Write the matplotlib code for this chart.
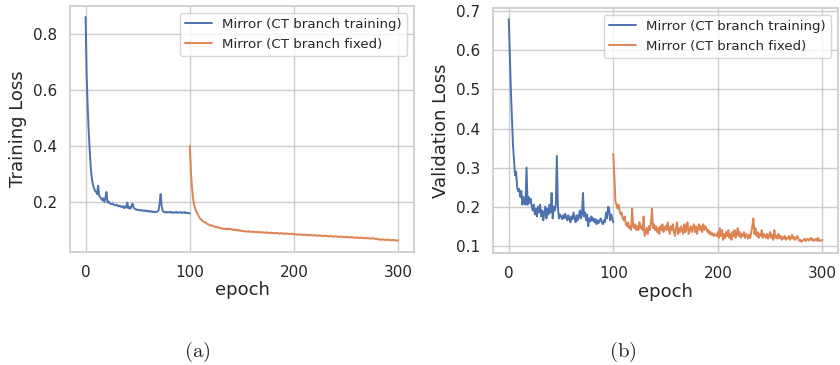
import numpy as np
import matplotlib
matplotlib.use("Agg")
import matplotlib.pyplot as plt
import seaborn as sns

# ---- data (one value per epoch) ----
train_ct_training = [
    0.860, 0.650, 0.540, 0.450, 0.380, 0.320, 0.285, 0.262, 0.250, 0.240,
    0.236, 0.228, 0.258, 0.222, 0.218, 0.212, 0.206, 0.213, 0.200, 0.214,
    0.236, 0.198, 0.202, 0.196, 0.194, 0.192, 0.195, 0.190, 0.189, 0.188,
    0.190, 0.186, 0.185, 0.187, 0.183, 0.182, 0.185, 0.178, 0.184, 0.180,
    0.198, 0.178, 0.182, 0.176, 0.185, 0.194, 0.181, 0.176, 0.174, 0.172,
    0.173, 0.171, 0.170, 0.172, 0.169, 0.170, 0.168, 0.170, 0.167, 0.169,
    0.166, 0.168, 0.165, 0.167, 0.164, 0.166, 0.163, 0.165, 0.164, 0.166,
    0.170, 0.195, 0.228, 0.185, 0.168, 0.164, 0.163, 0.165, 0.162, 0.164,
    0.163, 0.165, 0.162, 0.164, 0.161, 0.163, 0.162, 0.165, 0.161, 0.163,
    0.162, 0.164, 0.161, 0.163, 0.162, 0.164, 0.160, 0.162, 0.161, 0.160,
    0.159]

train_ct_fixed = [
    0.400, 0.310, 0.255, 0.215, 0.192, 0.178, 0.168, 0.160, 0.153, 0.146,
    0.140, 0.137, 0.133, 0.130, 0.127, 0.128, 0.124, 0.121, 0.120, 0.117,
    0.116, 0.117, 0.114, 0.113, 0.112, 0.110, 0.111, 0.109, 0.108, 0.107,
    0.106, 0.106, 0.104, 0.105, 0.103, 0.104, 0.102, 0.106, 0.103, 0.102,
    0.104, 0.101, 0.100, 0.102, 0.099, 0.101, 0.098, 0.100, 0.097, 0.098,
    0.096, 0.097, 0.095, 0.096, 0.094, 0.095, 0.094, 0.096, 0.093, 0.094,
    0.093, 0.095, 0.092, 0.093, 0.092, 0.094, 0.091, 0.092, 0.093, 0.091,
    0.092, 0.090, 0.091, 0.092, 0.090, 0.091, 0.089, 0.090, 0.091, 0.089,
    0.090, 0.088, 0.089, 0.090, 0.088, 0.089, 0.087, 0.088, 0.089, 0.087,
    0.088, 0.086, 0.087, 0.088, 0.086, 0.087, 0.085, 0.086, 0.087, 0.085,
    0.086, 0.084, 0.085, 0.083, 0.084, 0.085, 0.083, 0.084, 0.082, 0.083,
    0.084, 0.082, 0.083, 0.081, 0.082, 0.083, 0.081, 0.082, 0.080, 0.081,
    0.082, 0.080, 0.081, 0.079, 0.080, 0.081, 0.079, 0.080, 0.078, 0.079,
    0.080, 0.078, 0.079, 0.077, 0.078, 0.079, 0.077, 0.078, 0.076, 0.077,
    0.078, 0.076, 0.077, 0.075, 0.076, 0.077, 0.075, 0.076, 0.074, 0.075,
    0.076, 0.074, 0.075, 0.073, 0.074, 0.075, 0.073, 0.074, 0.072, 0.073,
    0.074, 0.072, 0.073, 0.071, 0.072, 0.073, 0.071, 0.072, 0.070, 0.071,
    0.072, 0.070, 0.071, 0.069, 0.070, 0.071, 0.069, 0.070, 0.068, 0.069,
    0.068, 0.066, 0.067, 0.065, 0.066, 0.067, 0.065, 0.066, 0.064, 0.065,
    0.066, 0.064, 0.065, 0.063, 0.064, 0.065, 0.063, 0.064, 0.062, 0.063,
    0.064]

val_ct_training = [
    0.680, 0.590, 0.500, 0.430, 0.360, 0.320, 0.280, 0.290, 0.250, 0.240,
    0.245, 0.225, 0.240, 0.205, 0.225, 0.210, 0.205, 0.300, 0.205, 0.225,
    0.210, 0.220, 0.200, 0.190, 0.205, 0.180, 0.195, 0.175, 0.200, 0.185,
    0.205, 0.175, 0.190, 0.165, 0.185, 0.200, 0.170, 0.195, 0.180, 0.205,
    0.185, 0.235, 0.170, 0.200, 0.190, 0.205, 0.330, 0.200, 0.170, 0.180,
    0.175, 0.168, 0.178, 0.170, 0.182, 0.172, 0.165, 0.178, 0.168, 0.160,
    0.175, 0.168, 0.185, 0.170, 0.160, 0.178, 0.165, 0.175, 0.190, 0.170,
    0.180, 0.235, 0.175, 0.185, 0.165, 0.180, 0.150, 0.170, 0.162, 0.175,
    0.165, 0.170, 0.160, 0.168, 0.155, 0.165, 0.158, 0.165, 0.170, 0.160,
    0.155, 0.165, 0.160, 0.185, 0.170, 0.200, 0.195, 0.165, 0.180, 0.170,
    0.160]

val_ct_fixed = [
    0.335, 0.280, 0.215, 0.205, 0.195, 0.205, 0.190, 0.180, 0.185, 0.170,
    0.165, 0.175, 0.155, 0.150, 0.160, 0.145, 0.150, 0.140, 0.195, 0.150,
    0.145, 0.155, 0.140, 0.150, 0.140, 0.160, 0.145, 0.150, 0.140, 0.175,
    0.125, 0.135, 0.145, 0.130, 0.150, 0.140, 0.160, 0.195, 0.145, 0.155,
    0.140, 0.150, 0.135, 0.145, 0.130, 0.150, 0.140, 0.155, 0.135, 0.145,
    0.150, 0.140, 0.160, 0.145, 0.130, 0.150, 0.140, 0.155, 0.135, 0.125,
    0.145, 0.160, 0.130, 0.145, 0.135, 0.150, 0.140, 0.130, 0.155, 0.135,
    0.145, 0.160, 0.130, 0.140, 0.150, 0.135, 0.145, 0.155, 0.135, 0.150,
    0.130, 0.145, 0.155, 0.140, 0.150, 0.135, 0.155, 0.140, 0.150, 0.145,
    0.135, 0.140, 0.130, 0.135, 0.128, 0.132, 0.125, 0.130, 0.127, 0.125,
    0.135, 0.120, 0.145, 0.125, 0.140, 0.115, 0.130, 0.120, 0.135, 0.125,
    0.140, 0.120, 0.130, 0.115, 0.135, 0.125, 0.140, 0.120, 0.130, 0.145,
    0.125, 0.135, 0.120, 0.130, 0.125, 0.135, 0.120, 0.130, 0.125, 0.118,
    0.128, 0.120, 0.135, 0.150, 0.170, 0.130, 0.145, 0.125, 0.135, 0.120,
    0.130, 0.125, 0.140, 0.120, 0.130, 0.125, 0.120, 0.130, 0.118, 0.125,
    0.135, 0.120, 0.128, 0.115, 0.140, 0.120, 0.125, 0.118, 0.130, 0.120,
    0.125, 0.115, 0.122, 0.118, 0.125, 0.115, 0.120, 0.118, 0.125, 0.115,
    0.120, 0.128, 0.118, 0.122, 0.115, 0.120, 0.125, 0.118, 0.112, 0.115,
    0.110, 0.113, 0.115, 0.118, 0.112, 0.115, 0.118, 0.113, 0.116, 0.120,
    0.114, 0.117, 0.112, 0.115, 0.118, 0.113, 0.120, 0.112, 0.114, 0.113,
    0.115]

label_training = "Mirror (CT branch training)"
label_fixed = "Mirror (CT branch fixed)"
start_training = 0
start_fixed = 100

# ---- style ----
sns.set_theme(style="whitegrid")
plt.rcParams["mathtext.fontset"] = "cm"
plt.rcParams["xtick.labelsize"] = 11
plt.rcParams["ytick.labelsize"] = 11
plt.rcParams["axes.labelsize"] = 13
plt.rcParams["legend.fontsize"] = 9.6

fig = plt.figure(figsize=(8.4, 3.65), dpi=100)
ax1 = fig.add_axes([0.0833, 0.310, 0.4095, 0.674])
ax2 = fig.add_axes([0.587, 0.307, 0.4107, 0.671])

panels = [
    (ax1, train_ct_training, train_ct_fixed, "Training Loss"),
    (ax2, val_ct_training, val_ct_fixed, "Validation Loss"),
]
for ax, first, second, ylab in panels:
    x1 = np.arange(len(first)) + start_training
    x2 = np.arange(len(second)) + start_fixed
    ax.plot(x1, first, color="#4c72b0", lw=1.4, label=label_training)
    ax.plot(x2, second, color="#dd8452", lw=1.4, label=label_fixed)
    ax.set_xlabel("epoch", labelpad=1)
    ax.set_ylabel(ylab)
    ax.set_xticks([0, 100, 200, 300])
    ax.legend(loc="upper right")

ax1.set_yticks([0.2, 0.4, 0.6, 0.8])
ax2.set_yticks([0.1, 0.2, 0.3, 0.4, 0.5, 0.6, 0.7])

fig.text(0.2345, 0.036, r"$\mathrm{(a)}$", ha="center", va="center", fontsize=15)
fig.text(0.742, 0.036, r"$\mathrm{(b)}$", ha="center", va="center", fontsize=15)

fig.savefig("out.png", dpi=100)
